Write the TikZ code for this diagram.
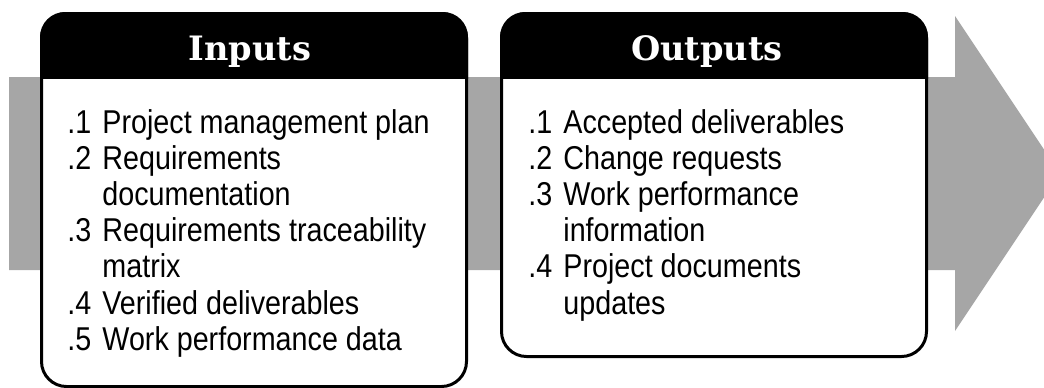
\documentclass[tikz,border=0pt]{standalone}
\usepackage{fontspec}
\setmainfont{Liberation Sans}[FakeStretch=0.87]
\newfontfamily\headfont{DejaVu Serif}
\usetikzlibrary{calc}
\definecolor{flowgray}{HTML}{A6A6A6}

\begin{document}
\begin{tikzpicture}[
  x=0.5pt, y=-0.5pt,
  panel/.style={draw, line width=1.5pt, rounded corners=12.5pt, fill=white, anchor=north west, minimum width=212.5pt, inner sep=0pt},
  head/.style={text=white, font=\headfont\bfseries\fontsize{16.8}{19}\selectfont, anchor=base, inner sep=0pt},
  items/.style={anchor=base west, inner sep=0pt, font=\fontsize{16.5}{18.1}\selectfont}
]
\useasboundingbox (0,0) rectangle (1044,387);
\clip (0,0) rectangle (1044,387);

% grey flow arrow behind both panels, tip runs off the right edge
\fill[flowgray] (9,77) -- (955,77) -- (955,16) -- (1060,173.5) -- (955,331) -- (955,270) -- (9,270) -- cycle;

\node[panel, minimum height=186.5pt] (inbox) at (40,12) {};
\node[panel, minimum height=171.5pt] (outbox) at (500,12) {};

% black title bands -- clip the whole rounded box to the top strip
\foreach \bx in {inbox,outbox}{
  \begin{scope}
    \clip ($(\bx.north west)+(-3,-3)$) rectangle ($(\bx.north east)+(3,66)$);
    \fill[rounded corners=12.5pt] (\bx.north west) rectangle (\bx.south east);
  \end{scope}
}

\node[head] (inhead) at (250,60) {Inputs};
\node[head] (outhead) at (707,60) {Outputs};

\node[items] (inlist) at (67,133) {\begin{tabular}[t]{@{}p{17.5pt}@{}l@{}}
.1 & Project management plan\\
.2 & Requirements\\
   & documentation\\
.3 & Requirements traceability\\
   & matrix\\
.4 & Verified deliverables\\
.5 & Work performance data
\end{tabular}};

\node[items] (outlist) at (528,133) {\begin{tabular}[t]{@{}p{17.5pt}@{}l@{}}
.1 & Accepted deliverables\\
.2 & Change requests\\
.3 & Work performance\\
   & information\\
.4 & Project documents\\
   & updates
\end{tabular}};
\end{tikzpicture}
\end{document}
